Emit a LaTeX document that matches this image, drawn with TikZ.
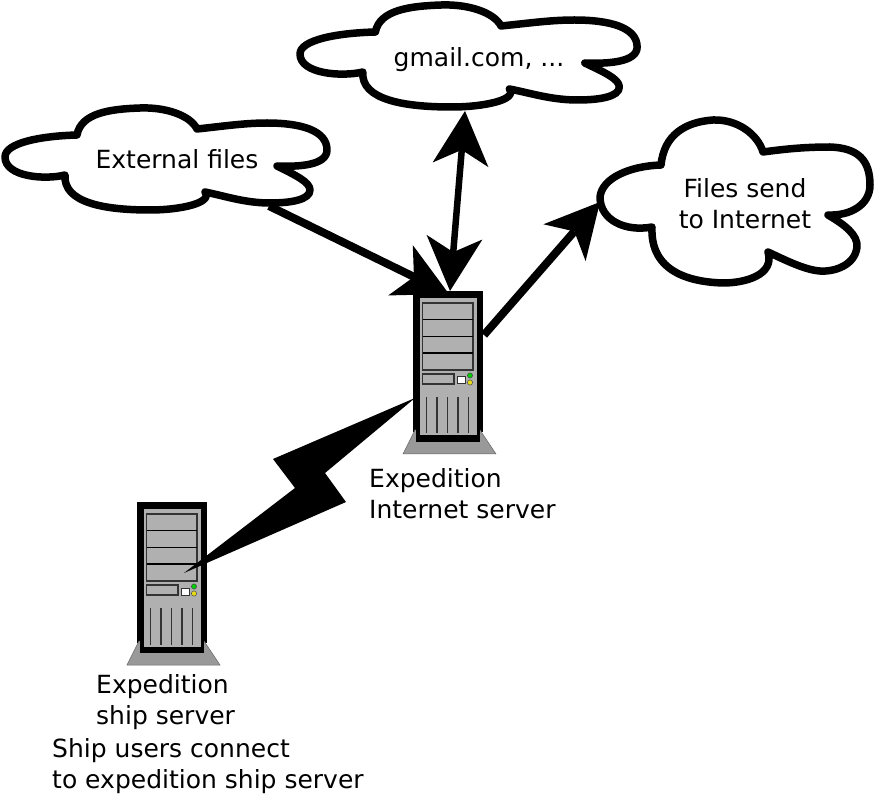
\documentclass[tikz,border=0pt]{standalone}
\usepackage{fontspec}
\setmainfont{DejaVu Sans}
\usetikzlibrary{arrows.meta}

\definecolor{facegray}{HTML}{B0B0B0}
\definecolor{basegray}{HTML}{999999}

\tikzset{
	label/.style={font=\fontsize{25}{31}\selectfont, align=left, inner sep=0pt},
	outline/.style={draw=black, line width=7.5pt, line join=round, fill=white},
	link/.style={draw=black, line width=8pt,
		-{Stealth[length=54pt,width=56pt,inset=15pt,line width=0pt]}},
	duplex/.style={draw=black, line width=6.5pt,
		{Stealth[length=54pt,width=56pt,inset=15pt,line width=0pt]}-{Stealth[length=54pt,width=56pt,inset=15pt,line width=0pt]}},
	bay/.style={draw=black!80, line width=1.2pt, fill=facegray},
	cloudblob/.pic={
		\path[outline] (72,30) .. controls (76,8) and (105,4) .. (135,3)
			.. controls (160,2) and (185,10) .. (192,24)
			.. controls (220,21) and (240,18) .. (262,18)
			.. controls (295,18) and (322,25) .. (322,45)
			.. controls (322,60) and (295,62) .. (272,61)
			.. controls (290,70) and (305,77) .. (305,85)
			.. controls (305,95) and (285,98) .. (265,98)
			.. controls (240,98) and (220,91) .. (200,87)
			.. controls (208,98) and (175,105) .. (145,105)
			.. controls (100,105) and (58,98) .. (60,70)
			.. controls (40,75) and (0,72) .. (0,52)
			.. controls (0,38) and (35,31) .. (72,30) -- cycle;
	},
	server/.pic={
		% case, foot and front
		\fill[black] (0,0) rectangle (70,141);
		\fill[basegray, draw=black!60, line width=.5pt] (2,139) -- (-10,163) -- (83,163) -- (67,139) -- cycle;
		\fill[black] (2.7,135) rectangle (67.3,151);
		\fill[facegray] (6.5,7) rectangle (63.5,144.5);
		% drive bays
		\draw[bay] (9.5,12) rectangle (60,79);
		\foreach \y in {28.7,45.3,62} {
			\draw[black, line width=1.2pt] (9.5,\y) -- (60,\y);
		}
		\draw[bay] (9.5,83) rectangle (41,93);
		\draw[black!80, fill=white, line width=1pt] (44,86) rectangle (52.7,93);
		\fill[green!80!black, draw=black!70, line width=.5pt] (57,84.5) circle (2.6);
		\fill[yellow!90!black, draw=black!70, line width=.5pt] (57,91.5) circle (2.6);
		% vents
		\foreach \x in {13.3,24,34.3,45,55.7} {
			\draw[black!80, line width=1.2pt] (\x,106) -- (\x,142.5);
		}
		\coordinate (-top) at (37,0);
		\coordinate (-right) at (70,44);
		\coordinate (-left) at (2,107);
		\coordinate (-inside) at (47,71);
	}
}

\begin{document}
\begin{tikzpicture}[x=1pt,y=-1pt]
	\useasboundingbox (0,0) rectangle (879,794);

	% Clouds
	\pic (external) at (5,105) {cloudblob};
	\pic[xscale=1.047] (mail) at (300,2) {cloudblob};
	\path[outline] (661,165) .. controls (664,135) and (685,122) .. (713,120)
		.. controls (738,119) and (758,135) .. (763,152)
		.. controls (785,149) and (805,147) .. (830,147)
		.. controls (858,148) and (870,160) .. (870,185)
		.. controls (870,205) and (850,216) .. (828,215)
		.. controls (845,225) and (858,235) .. (857,247)
		.. controls (855,265) and (835,272) .. (820,271)
		.. controls (805,270) and (785,260) .. (768,252)
		.. controls (775,275) and (745,283) .. (723,283)
		.. controls (690,282) and (650,272) .. (652,227)
		.. controls (625,232) and (600,220) .. (600,197)
		.. controls (602,178) and (630,166) .. (661,165) -- cycle;

	% Servers
	\pic (internet) at (413,291) {server};
	\pic (ship) at (137,502) {server};

	% Anchors on the clouds
	\coordinate (externalout) at (269,206);
	\coordinate (externalin) at (449,294);
	\coordinate (mailin) at (465,111);
	\coordinate (filesin) at (600,202);
	\coordinate (boltupper) at (273,459);
	\coordinate (boltmid) at (295,488);
	\coordinate (boltlower) at (346,502);
	\coordinate (boltback) at (325,473);

	% Connections
	\draw[link] (externalout) -- (externalin);
	\draw[duplex] (mailin) -- (internet-top);
	\draw[link] (internet-right) ++(1,0) -- (filesin);
	\fill[black] (internet-left) -- (boltupper) -- (boltmid) -- (ship-inside)
		-- (boltlower) -- (boltback) -- cycle;

	% Labels
	\node[label] (externallabel) at (177,159) {External files};
	\node[label] (maillabel) at (479,60) {gmail.com, ...};
	\node[label, align=center] (fileslabel) at (745,204) {Files send\\to Internet};
	\node[label, anchor=west] (internetlabel) at (369,494) {Expedition\\Internet server};
	\node[label, anchor=west] (shiplabel) at (96,702) {Expedition\\ship server};
	\node[label, anchor=west] (userslabel) at (52,766) {Ship users connect\\to expedition ship server};
\end{tikzpicture}
\end{document}
